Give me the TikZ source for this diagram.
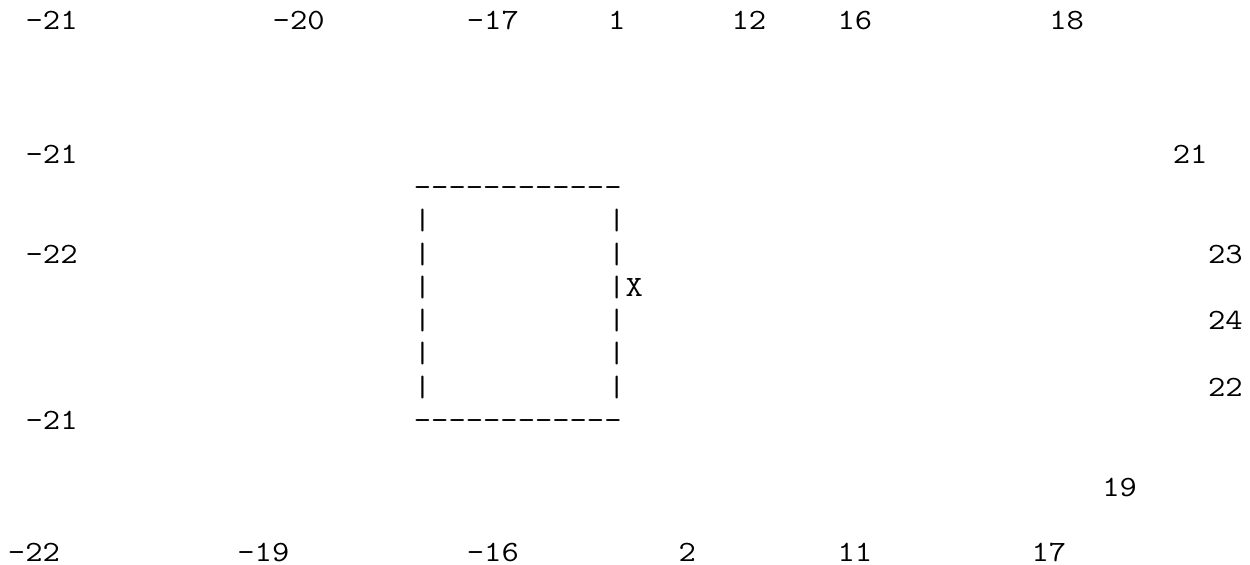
\documentclass[tikz,border=0pt]{standalone}
\usepackage{fontspec}
\setmonofont{Latin Modern Mono}[FakeStretch=1.143]
\usepackage{tikz}

\begin{document}
\begin{tikzpicture}[x=8.825pt,y=-16.65pt,
  txt/.style={font=\ttfamily\fontsize{14.7pt}{16.65pt}\selectfont, inner sep=0pt, outer sep=0pt, anchor=base west}]
\useasboundingbox (-0.453,-0.901) rectangle (70.37,16.066);
\foreach \c/\v [count=\i] in {1/-21,15/-20,26/-17,34/1,41/12,47/16,59/18}
  \node[txt] (top\i) at (\c,0) {\v};
\foreach \c/\v [count=\i] in {0/-22,13/-19,26/-16,38/2,47/11,58/17}
  \node[txt] (bot\i) at (\c,15.95) {\v};
\foreach \r/\v [count=\i] in {4/-21,7/-22,12/-21}
  \node[txt] (left\i) at (1,\r) {\v};
\foreach \c/\r/\v [count=\i] in {66/4/21,68/7/23,68/9/24,68/11/22,62/14/19}
  \node[txt] (right\i) at (\c,\r) {\v};
\node[txt] (boxtop) at (23,5) {------------};
\node[txt] (boxbot) at (23,12) {------------};
\foreach \r in {6,...,11} {
  \node[txt] (lbar\r) at (23,\r) {|};
  \node[txt] (rbar\r) at (34,\r) {|};
}
\node[txt] (mark) at (35,8) {X};
\end{tikzpicture}
\end{document}
